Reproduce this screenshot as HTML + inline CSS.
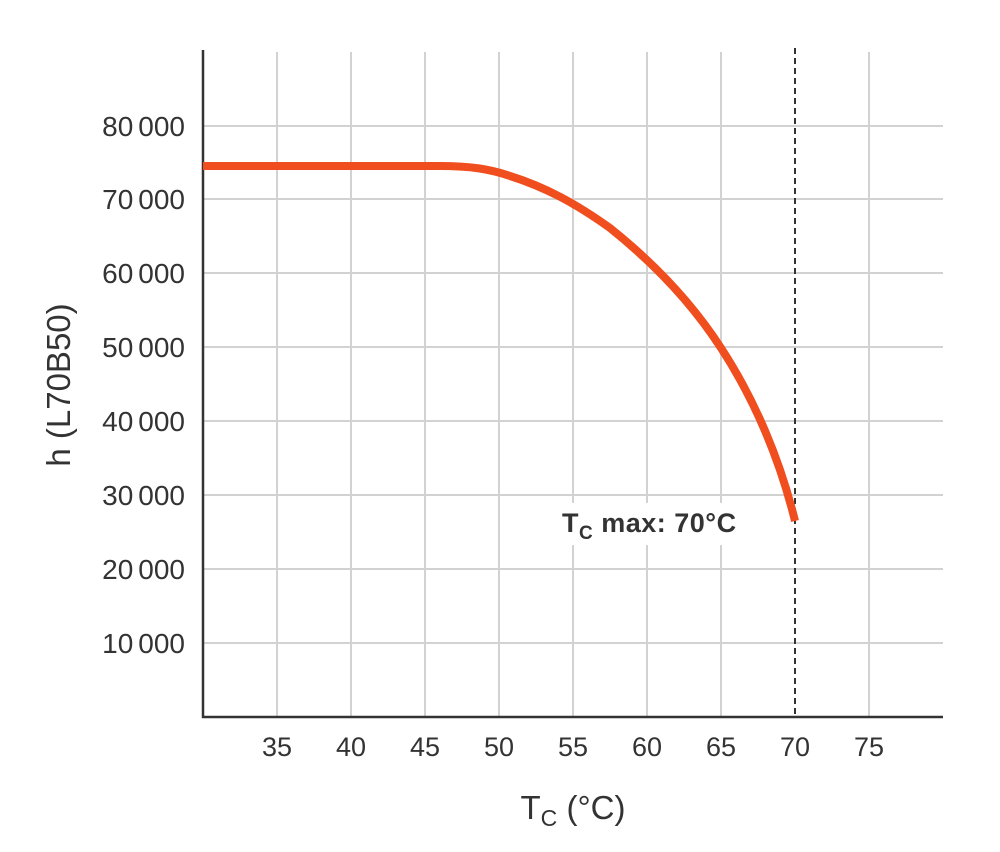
<!DOCTYPE html>
<html><head><style>body{margin:0;background:#fff}svg{display:block}</style></head>
<body>
<svg width="1000" height="852" viewBox="0 0 1000 852" font-family="Liberation Sans, sans-serif">
<rect width="1000" height="852" fill="#fff"/>
<g stroke="#d2d2d2" stroke-width="2">
<line x1="277" y1="52" x2="277" y2="717"/><line x1="351" y1="52" x2="351" y2="717"/>
<line x1="425" y1="52" x2="425" y2="717"/><line x1="499" y1="52" x2="499" y2="717"/>
<line x1="573" y1="52" x2="573" y2="717"/><line x1="647" y1="52" x2="647" y2="717"/>
<line x1="721" y1="52" x2="721" y2="717"/><line x1="869" y1="52" x2="869" y2="717"/>
<line x1="203" y1="126" x2="943" y2="126"/><line x1="203" y1="199" x2="943" y2="199"/>
<line x1="203" y1="273" x2="943" y2="273"/><line x1="203" y1="347" x2="943" y2="347"/>
<line x1="203" y1="421" x2="943" y2="421"/><line x1="203" y1="495" x2="943" y2="495"/>
<line x1="203" y1="569" x2="943" y2="569"/><line x1="203" y1="643" x2="943" y2="643"/>
</g>
<line x1="795" y1="48" x2="795" y2="717" stroke="#333" stroke-width="2" stroke-dasharray="6,4"/>
<rect x="558" y="503" width="210" height="42" fill="#fff"/>
<g stroke="#333" stroke-width="2.5">
<line x1="203" y1="50" x2="203" y2="718"/><line x1="202" y1="717" x2="943" y2="717"/>
</g>
<path d="M203,166 L440,166 C470,166 490,169 510,176 C545,187 575,203 610,228 C650,260 690,300 721,348 C755,400 780,460 795,521" fill="none" stroke="#f04e1e" stroke-width="8" stroke-linecap="butt"/>
<g font-size="28" fill="#333" text-anchor="end">
<text x="185" y="136">80<tspan dx="5">000</tspan></text><text x="185" y="209">70<tspan dx="5">000</tspan></text>
<text x="185" y="283">60<tspan dx="5">000</tspan></text><text x="185" y="357">50<tspan dx="5">000</tspan></text>
<text x="185" y="431">40<tspan dx="5">000</tspan></text><text x="185" y="505">30<tspan dx="5">000</tspan></text>
<text x="185" y="579">20<tspan dx="5">000</tspan></text><text x="185" y="653">10<tspan dx="5">000</tspan></text>
</g>
<g font-size="27" fill="#333" text-anchor="middle">
<text x="277" y="756">35</text><text x="351" y="756">40</text><text x="425" y="756">45</text>
<text x="499" y="756">50</text><text x="573" y="756">55</text><text x="647" y="756">60</text>
<text x="721" y="756">65</text><text x="795" y="756">70</text><text x="869" y="756">75</text>
</g>
<text x="573" y="819" font-size="33" fill="#333" text-anchor="middle">T<tspan font-size="23" dy="7">C</tspan><tspan dy="-7"> (°C)</tspan></text>
<text transform="translate(70,385) rotate(-90)" font-size="33" fill="#333" text-anchor="middle">h (L70B50)</text>
<text x="562" y="532" font-size="27" font-weight="bold" fill="#333" letter-spacing="0.5">T<tspan font-size="19" dy="7">C</tspan><tspan dy="-7"> max: 70°C</tspan></text>
</svg>
</body></html>
